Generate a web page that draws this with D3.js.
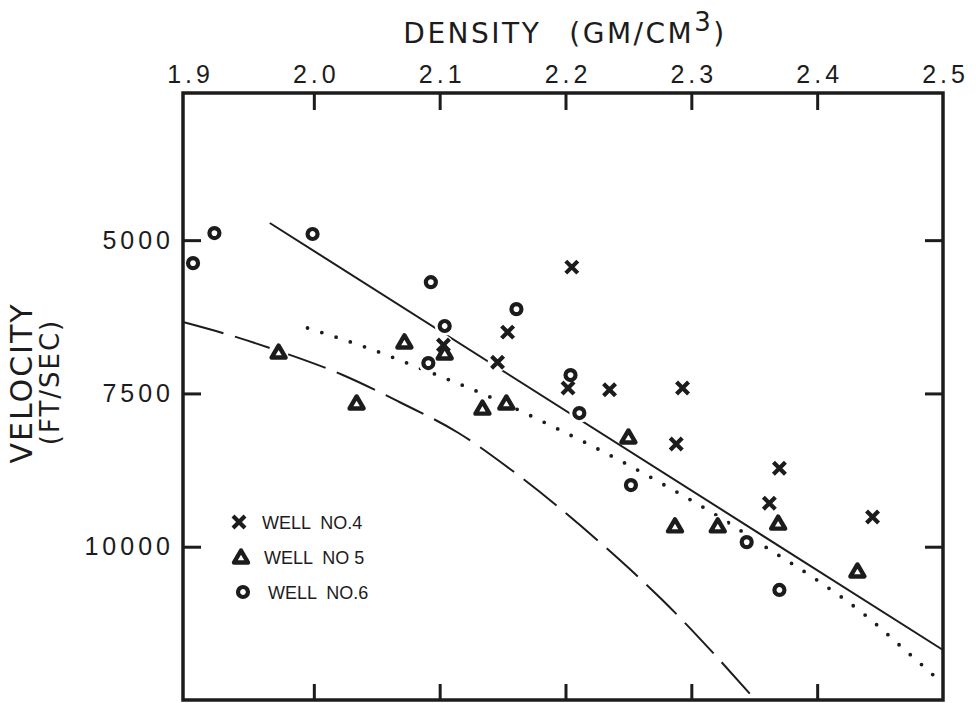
<!DOCTYPE html>
<html>
<head>
<meta charset="utf-8">
<script src="https://cdn.jsdelivr.net/npm/d3@7"></script>
<style>
  body { margin: 0; background: #fff; }
</style>
</head>
<body>
<div id="chart"></div>
<script>
// axis ticks
const densityTicks = [1.9, 2.0, 2.1, 2.2, 2.3, 2.4, 2.5];
const velocityTicks = [5000, 7500, 10000];

// [density, velocity]
const well4 = [[2.103, 6710], [2.146, 6990], [2.154, 6500], [2.205, 5440], [2.202, 7410],
  [2.235, 7440], [2.293, 7410], [2.288, 8325], [2.370, 8720], [2.362, 9290], [2.444, 9515]];
const well5 = [[1.972, 6825], [2.034, 7655], [2.072, 6660], [2.104, 6840], [2.134, 7740],
  [2.153, 7655], [2.250, 8210], [2.287, 9660], [2.321, 9660], [2.369, 9615], [2.432, 10395]];
const well6 = [[1.904, 5375], [1.921, 4885], [1.999, 4900], [2.093, 5685], [2.104, 6400],
  [2.091, 7005], [2.161, 6125], [2.204, 7200], [2.211, 7820], [2.252, 8995], [2.344, 9925],
  [2.370, 10705]];

// fitted lines
const solidLine = [[1.965, 4720], [2.5, 11685]];
const dottedCurve = [[1.995, 6433], [2.045, 6775], [2.092, 7151], [2.140, 7558], [2.194, 8080],
  [2.247, 8635], [2.280, 9010], [2.321, 9499], [2.359, 10005], [2.401, 10559], [2.440, 11146],
  [2.468, 11652], [2.494, 12125]];
const dashedCurve = [[1.896, 6335], [1.933, 6547], [1.965, 6759], [2.023, 7199], [2.068, 7640],
  [2.115, 8145], [2.157, 8749], [2.227, 9923], [2.277, 10869], [2.351, 12500]];

const legendItems = [
  {label: "WELL  NO.4", shape: "x"},
  {label: "WELL  NO 5", shape: "tri"},
  {label: "WELL  NO.6", shape: "circ"}
];

const width = 976, height = 703;
const ink = "#1c1c1c";

const x = d3.scaleLinear().domain([1.9, 2.5]).range([188, 943]);
const y = d3.scaleLinear().domain([2600, 12500]).range([93, 700]);
const frameLeft = 183;

const svg = d3.select("#chart").append("svg")
    .attr("width", width)
    .attr("height", height)
    .style("font-family", "'DejaVu Sans', sans-serif");

svg.append("rect").attr("width", width).attr("height", height).attr("fill", "#fff");

const line = d3.line().x(d => x(d[0])).y(d => y(d[1]));
const curve = d3.line().x(d => x(d[0])).y(d => y(d[1])).curve(d3.curveMonotoneX);

// lines
const plot = svg.append("g").attr("fill", "none").attr("stroke", ink);

plot.append("path")
    .attr("d", line(solidLine))
    .attr("stroke-width", 2);

plot.append("path")
    .attr("d", curve(dashedCurve))
    .attr("stroke-width", 2)
    .attr("stroke-dasharray", "42,12");

plot.append("path")
    .attr("d", curve(dottedCurve))
    .attr("stroke-width", 3.8)
    .attr("stroke-linecap", "round")
    .attr("stroke-dasharray", "0,15");

// symbols
function symbol(g, shape) {
  if (shape === "x") {
    g.append("path")
        .attr("d", "M-6,-6L6,6M6,-6L-6,6")
        .attr("stroke", ink).attr("stroke-width", 4.2).attr("fill", "none");
  } else if (shape === "tri") {
    g.append("path")
        .attr("d", "M0,-6.5L7,5.5L-7,5.5Z")
        .attr("stroke", ink).attr("stroke-width", 4.4).attr("stroke-linejoin", "round")
        .attr("fill", "none");
  } else {
    g.append("circle")
        .attr("r", 5)
        .attr("stroke", ink).attr("stroke-width", 4.2).attr("fill", "none");
  }
}

const series = [
  {data: well4, shape: "x"},
  {data: well5, shape: "tri"},
  {data: well6, shape: "circ"}
];

// white halo round the symbols, the lines stop short of them
const halo = svg.append("g").attr("fill", "#fff");
series.forEach(s => {
  halo.selectAll(null)
      .data(s.data)
      .join("circle")
      .attr("cx", d => x(d[0]))
      .attr("cy", d => y(d[1]))
      .attr("r", 10);
});

const marks = svg.append("g");
series.forEach(s => {
  marks.selectAll(null)
      .data(s.data)
      .join("g")
      .attr("transform", d => `translate(${x(d[0])},${y(d[1])})`)
      .each(function() { symbol(d3.select(this), s.shape); });
});

// frame and axes
svg.append("rect")
    .attr("x", frameLeft).attr("y", y.range()[0])
    .attr("width", x.range()[1] - frameLeft).attr("height", y.range()[1] - y.range()[0])
    .attr("fill", "none").attr("stroke", ink).attr("stroke-width", 3.5);

function styleAxis(g) {
  g.select(".domain").remove();
  g.selectAll(".tick line").attr("stroke", ink).attr("stroke-width", 3);
  g.selectAll(".tick text")
      .attr("fill", ink)
      .style("font-size", "25px")
      .style("letter-spacing", "4px");
}

svg.append("g")
    .attr("transform", `translate(0,${y.range()[0]})`)
    .call(d3.axisTop(x).tickValues(densityTicks.slice(1, -1)).tickSizeInner(-17).tickSizeOuter(0)
      .tickFormat(""))
    .call(styleAxis);

svg.append("g")
    .attr("transform", `translate(0,${y.range()[0]})`)
    .call(d3.axisTop(x).tickValues(densityTicks).tickSize(0)
      .tickPadding(10).tickFormat(d3.format(".1f")))
    .call(styleAxis)
    .selectAll(".tick text").attr("dx", "2px");

svg.append("g")
    .attr("transform", `translate(0,${y.range()[1]})`)
    .call(d3.axisBottom(x).tickValues(densityTicks.slice(1, -1)).tickSizeInner(-16)
      .tickSizeOuter(0).tickFormat(""))
    .call(styleAxis);

svg.append("g")
    .attr("transform", `translate(${frameLeft},0)`)
    .call(d3.axisLeft(y).tickValues(velocityTicks).tickSizeInner(-18).tickSizeOuter(0)
      .tickPadding(9).tickFormat(d3.format("d")))
    .call(styleAxis);

svg.append("g")
    .attr("transform", `translate(${x.range()[1]},0)`)
    .call(d3.axisRight(y).tickValues(velocityTicks).tickSizeInner(-18).tickSizeOuter(0)
      .tickFormat(""))
    .call(styleAxis);

// titles
const title = svg.append("text")
    .attr("x", 565).attr("y", 43)
    .attr("text-anchor", "middle")
    .attr("fill", ink)
    .style("font-size", "28px")
    .style("letter-spacing", "2.5px");
title.append("tspan").text("DENSITY");
title.append("tspan").attr("dx", 28).text("(GM/CM");
title.append("tspan").attr("dy", -12).style("font-size", "26px").text("3");
title.append("tspan").attr("dy", 12).text(")");

svg.append("text")
    .attr("transform", "translate(32,383) rotate(-90)")
    .attr("text-anchor", "middle")
    .attr("fill", ink)
    .style("font-size", "30px")
    .style("letter-spacing", "2px")
    .text("VELOCITY");

svg.append("text")
    .attr("transform", "translate(59,382) rotate(-90)")
    .attr("text-anchor", "middle")
    .attr("fill", ink)
    .style("font-size", "26px")
    .style("letter-spacing", "2px")
    .text("(FT/SEC)");

// legend
const legend = svg.append("g").attr("transform", "translate(239,522)");
const item = legend.selectAll("g")
    .data(legendItems)
    .join("g")
    .attr("transform", (d, i) => `translate(${i * 2},${i * 35})`);
item.each(function(d) { symbol(d3.select(this), d.shape); });
item.append("text")
    .attr("x", d => d.shape === "circ" ? 25 : 23)
    .attr("y", 7)
    .attr("fill", ink)
    .style("white-space", "pre")
    .style("font-family", "'Liberation Sans', sans-serif")
    .style("font-size", "18px")
    .text(d => d.label);
</script>
</body>
</html>
